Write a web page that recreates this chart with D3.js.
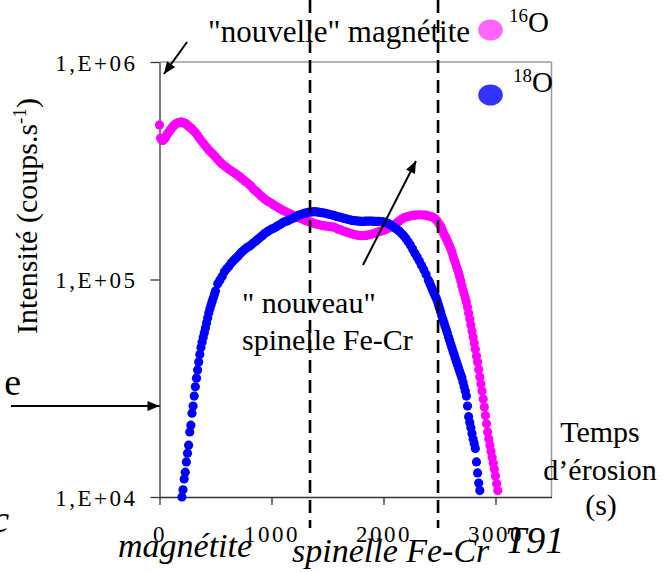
<!DOCTYPE html>
<html><head><meta charset="utf-8">
<script src="https://cdn.jsdelivr.net/npm/d3@7"></script>
<style>
html,body{margin:0;padding:0;background:#fff;}
svg{display:block;}
text{font-family:"Liberation Serif","Times New Roman",serif;fill:#000;}
</style></head><body>
<svg id="chart" width="672" height="572"></svg>
<script>
// ---- data (erosion time in s, intensity in thousands of counts/s) ----
const time16 = [0,10,20,30,40,50,60,70,80,90,100,110,120,130,140,150,160,170,180,190,200,210,220,230,240,250,260,270,280,290,300,
320,340,360,380,400,420,440,460,480,500,520,540,560,580,600,620,640,660,680,700,720,740,760,780,800,820,840,860,880,900,
920,940,960,980,1000,1020,1040,1060,1080,1100,1120,1140,1160,1180,1200,1220,1240,1260,1280,1300,1320,1340,1360,1380,1400,1420,1440,1460,1480,1500,
1520,1540,1560,1580,1600,1620,1640,1660,1680,1700,1720,1740,1760,1780,1800,1820,1840,1860,1880,1900,1920,1940,1960,1980,2000,2020,2040,2060,2080,2100,
2120,2140,2160,2180,2200,2220,2240,2260,2280,2300,2320,2340,2360,2380,2400,2420,2440,2460,2480,2500,
2510,2520,2530,2540,2550,2560,2570,2580,2590,2600,2610,2620,2630,2640,2650,2660,2670,2680,2690,2700,2710,2720,2730,2740,2750,2760,2770,2780,2790,2800,
2810,2820,2830,2840,2850,2860,2870,2880,2890,2900,2910,2920,2930,2940,2950,2960,2970,2980,2990,3000,3010,3020];
const o16 = [513,447,438,436,440,447,457,467,474,482,489,497,505,510,516,521,524,526,527,529,529,527,524,521,518,513,507,502,497,492,486,
474,459,444,430,418,406,394,385,376,366,356,347,340,333,327,321,316,311,306,301,296,290,284,279,274,268,260,255,250,244,
239,234,230,227,224,220,217,214,211,208,206,203,201,199,196,194,193,191,189,187,186,184,183,181,180,179,178,177,176,176,
175,174.5,174,172,170,169,167,166,164.5,163,162,161,160,159.5,159,159,159.5,160,161,162,163,164.5,166,167,168,170,172,174,177,179.5,
182.5,186,189,192,193.5,195,196,197,197.5,198,198.5,198,198,197.5,196,195,193.5,190.5,186,178.5,
176,171,166,161.5,158,154.5,150.5,146,142.5,138,134,129,124,120,115.5,111.5,107.5,103,98.5,93.5,89.5,85.8,82.2,78.8,74.8,70.2,65.9,61.8,58.0,54.4,
51.1,47.8,44.5,41.8,38.6,35.6,33.1,30.7,28.2,25.9,23.7,21.7,19.9,18.5,17.3,16.2,15.2,14.3,13.4,12.5,11.5,10.7];
const time18 = [200,210,220,230,240,250,260,270,280,290,300,310,320,330,340,350,360,370,380,390,400,410,420,430,440,450,460,470,480,490,500,
520,540,560,580,600,620,640,660,680,700,720,740,760,780,800,820,840,860,880,900,920,940,960,980,1000,1020,1040,1060,1080,1100,
1120,1140,1160,1180,1200,1220,1240,1260,1280,1300,1320,1340,1360,1380,1400,1420,1440,1460,1480,1500,1520,1540,1560,1580,1600,1620,1640,1660,1680,1700,
1720,1740,1760,1780,1800,1820,1840,1860,1880,1900,1920,1940,1960,1980,2000,2020,2040,2060,2080,2100,2120,2140,2160,2180,2200,2220,2240,2260,2280,2300,
2320,2340,2360,2380,2400,
2410,2420,2430,2440,2450,2460,2470,2480,2490,2500,2510,2520,2530,2540,2550,2560,2570,2580,2590,2600,2610,2620,2630,2640,2650,2660,2670,2680,2690,2700,
2710,2720,2730,2740,2750,2760,2770,2780,2790,2800,2810,2820,2830,2840,2850,2860];
const o18 = [10.0,10.8,12.1,13.0,14.5,15.9,17.3,19.9,21.4,24.3,26.2,29.1,32.1,35.2,38.4,41.8,45.2,48.7,51.4,54.1,56.9,59.9,63.1,66.6,70.2,73.3,76.4,79.2,82.2,85.3,88.5,
95.7,99.6,103.5,108.5,112,115,119,122,125,128,131.5,134.5,137.5,140,142,144.5,147.5,150.5,153.5,156.5,159.5,163,165.5,168,170.5,172,174.5,177,179.5,182.5,
184.5,186,188,190,192,194.5,197,199,200.5,202,203,204,204.5,205,204.5,204,203,202.5,201.5,200.5,199,198,197,195,194,193,191.5,190.5,189,188,
187,186.5,186,185.5,185,185,185.5,185.5,185.5,185.5,185,185,185,184.5,184,182.5,181,178.5,176,173,170,167,163,159,154.5,149,144,138,132,127,
121.5,116,111,105.5,99.4,
96.9,94.2,91.6,89.1,86.7,84.4,82.2,79.7,76.6,73.8,71.0,68.2,65.7,63.3,61.0,58.8,56.7,54.4,52.5,50.5,48.7,46.9,45.3,43.6,42.1,40.6,39.2,37.9,36.5,35.3,
33.7,32.1,30.7,29.1,26.2,23.4,22.0,20.8,19.6,18.5,17.6,16.7,14.5,12.9,11.6,10.7];
const yTicks = [1e4, 1e5, 1e6];
const yTickLabels = ["1,E+04", "1,E+05", "1,E+06"];
const xTicks = [0, 1000, 2000, 3000];
const xTickLabels = ["0", "1000", "2000", "3000"];
const zoneBounds = [1344, 2487];   // dashed boundaries (s)
const seriesNames = ["16", "18"];

const SERIF = '"Liberation Serif","Times New Roman",serif';

// ---- scales ----
const svg = d3.select("#chart");
const x = d3.scaleLinear().domain([0, 3500]).range([159.5, 551.5]);
const y = d3.scaleLog().domain([1e4, 1e6]).range([497, 62]);

const defs = svg.append("defs");
defs.append("marker").attr("id","ah").attr("viewBox","0 0 12 10").attr("refX",12).attr("refY",5)
  .attr("markerWidth",13).attr("markerHeight",10).attr("markerUnits","userSpaceOnUse").attr("orient","auto")
  .append("path").attr("d","M0,0L12,5L0,10Z").attr("fill","#000");

// frame (top & right)
svg.append("line").attr("x1",x(0)).attr("x2",x(3500)).attr("y1",y(1e6)).attr("y2",y(1e6)).attr("stroke","#9a9a9a").attr("stroke-width",1.5);
svg.append("line").attr("x1",x(3500)).attr("x2",x(3500)).attr("y1",y(1e6)).attr("y2",y(1e4)).attr("stroke","#9a9a9a").attr("stroke-width",1.5);

// axes
const gy = svg.append("g").attr("transform",`translate(${x(0)},0)`).attr("color","#333").attr("font-family",SERIF)
  .call(d3.axisLeft(y).tickValues(yTicks).tickFormat((d,i)=>yTickLabels[i]).tickSize(9).tickSizeOuter(0).tickPadding(13));
gy.selectAll(".tick line").attr("stroke-width",1.3);
gy.select(".domain").attr("stroke-width",1.3);
gy.selectAll(".tick text").attr("font-size",23).attr("letter-spacing","2.5px").attr("dy","0.36em")
  .style("fill","#000").style("font-family",SERIF);

const gx = svg.append("g").attr("transform",`translate(0,${y(1e4)})`).attr("color","#333").attr("font-family",SERIF)
  .call(d3.axisBottom(x).tickValues(xTicks).tickFormat((d,i)=>xTickLabels[i]).tickSize(8).tickSizeOuter(0).tickPadding(21));
gx.selectAll(".tick line").attr("stroke-width",1.3);
gx.select(".domain").attr("stroke-width",1.3);
gx.selectAll(".tick text").attr("font-size",23).attr("letter-spacing","2.5px")
  .style("fill","#000").style("font-family",SERIF);

// series
const s16 = time16.map((t,i)=>({t, v:o16[i]*1000}));
const s18 = time18.map((t,i)=>({t, v:o18[i]*1000}));
svg.append("g").selectAll("circle").data(s16).join("circle")
  .attr("cx",d=>x(d.t)).attr("cy",d=>y(d.v)).attr("r",4.6).attr("fill","#FF00FF");
svg.append("g").selectAll("circle").data(s18).join("circle")
  .attr("cx",d=>x(d.t)).attr("cy",d=>y(d.v)).attr("r",4.6).attr("fill","#0000FF");

// dashed zone boundaries
svg.append("g").selectAll("line").data(zoneBounds).join("line")
  .attr("x1",d=>x(d)).attr("x2",d=>x(d)).attr("y1",0).attr("y2",528)
  .attr("stroke","#000").attr("stroke-width",2.6).attr("stroke-dasharray","13,7");

// arrows (in data coordinates)
const arrows = [
  [[246,1.236e6],[40,8.81e5]],
  [[1817,1.166e5],[2290,3.505e5]],
  [[-1326,2.62e4],[0,2.62e4]]
];
svg.append("g").selectAll("line").data(arrows).join("line")
  .attr("x1",d=>x(d[0][0])).attr("y1",d=>y(d[0][1])).attr("x2",d=>x(d[1][0])).attr("y2",d=>y(d[1][1]))
  .attr("stroke","#000").attr("stroke-width",2).attr("marker-end","url(#ah)");

// texts
function txt(xp, yp, s, size, opts={}) {
  const t = svg.append("text").attr("x",xp).attr("y",yp).attr("font-size",size).text(s);
  if (opts.anchor) t.attr("text-anchor",opts.anchor);
  if (opts.italic) t.attr("font-style","italic");
  return t;
}
txt(208, 42, "\"nouvelle\" magnétite", 31);
txt(242, 313, "\" nouveau\"", 30);
txt(242, 350, "spinelle Fe-Cr", 30);
txt(600, 442, "Temps", 30, {anchor:"middle"});
txt(600, 480, "d’érosion", 30, {anchor:"middle"});
txt(601, 515, "(s)", 30, {anchor:"middle"});
txt(118, 557, "magnétite", 34, {italic:true});
txt(292, 562, "spinelle Fe-Cr", 34, {italic:true});
txt(505, 553, "T91", 38, {italic:true});
txt(21, 395, "e", 38, {anchor:"end"});
txt(9, 532, "c", 38, {anchor:"end", italic:true});

// y axis title
const yl = svg.append("text").attr("transform","translate(37,216) rotate(-90)").attr("text-anchor","middle").attr("font-size",30);
yl.append("tspan").text("Intensité (coups.s");
yl.append("tspan").attr("dy",-11).attr("font-size",19).text("-1");
yl.append("tspan").attr("dy",11).text(")");

// legend
const legendPos = [{cx:490.5, cy:30, tx:509, ty:32, fill:"#FF66FF"}, {cx:490.5, cy:95, tx:513, ty:92, fill:"#3333FF"}];
legendPos.forEach((p,i)=>{
  svg.append("ellipse").attr("cx",p.cx).attr("cy",p.cy).attr("rx",12.3).attr("ry",10.6).attr("fill",p.fill);
  const t = svg.append("text").attr("x",p.tx).attr("y",p.ty).attr("font-size",29);
  t.append("tspan").attr("dy",-10).attr("font-size",19).text(seriesNames[i]);
  t.append("tspan").attr("dy",10).text("O");
});
</script>
</body></html>
